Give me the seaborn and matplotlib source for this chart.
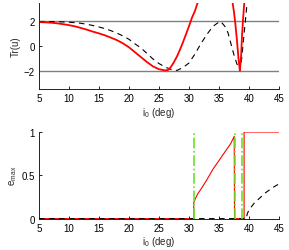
import matplotlib
matplotlib.use('Agg')
import matplotlib.pyplot as plt
import numpy as np
import pandas as pd
import seaborn as sns

# Top panel: trace of monodromy matrix vs inclination
tr_red_i1 = [5, 6, 7, 8, 9, 10, 11, 12, 13, 14, 15, 16, 17, 18, 19, 20, 21, 22, 23, 24, 25, 26, 26.5,
             27, 27.5, 28, 28.5, 29, 29.5, 30, 30.5, 31, 31.4, 31.6]
tr_red_v1 = [1.95, 1.93, 1.90, 1.85, 1.78, 1.70, 1.60, 1.47, 1.33, 1.17, 1.03, 0.87, 0.68, 0.48, 0.22,
             -0.1, -0.5, -0.9, -1.3, -1.65, -1.88, -1.98, -1.95, -1.7, -1.3, -0.85, -0.3, 0.3, 0.95,
             1.6, 2.3, 2.85, 3.45, 3.75]
tr_red_i2 = [37.2, 37.5, 37.7, 38.0, 38.3, 38.5, 38.7, 38.85, 39.0, 39.15, 39.3]
tr_red_v2 = [3.8, 2.8, 2.0, 0.5, -1.2, -2.0, -0.8, 0.8, 2.0, 3.0, 3.9]

tr_blk_i = [5, 6, 7, 8, 9, 10, 11, 12, 13, 14, 15, 16, 17, 18, 19, 20, 21, 22, 23, 24, 25, 26, 27, 28,
            29, 30, 31, 32, 33, 34, 35, 35.3, 36, 36.5, 37, 37.5, 38, 38.5, 38.8, 39.1, 39.4, 39.6, 39.75]
tr_blk_v = [2.0, 2.0, 1.99, 1.98, 1.96, 1.94, 1.9, 1.85, 1.77, 1.67, 1.55, 1.42, 1.25, 1.05, 0.82, 0.55,
            0.18, -0.15, -0.6, -1.05, -1.42, -1.7, -1.9, -1.98, -1.75, -1.38, -0.65, 0.2, 0.95, 1.6,
            1.95, 2.0, 1.6, 1.1, 0.2, -0.7, -1.45, -2.0, -1.0, 0.5, 2.0, 3.0, 3.8]
stab_levels = [-2, 2]

# Bottom panel: maximum eccentricity
e_red_i = [5, 30.8, 30.8, 31.0, 31.5, 32, 33, 34, 35, 36, 37, 37.55, 37.6, 39.2, 39.2, 45]
e_red_v = [0, 0, 0.18, 0.22, 0.29, 0.34, 0.45, 0.57, 0.67, 0.77, 0.87, 0.95, 0, 0, 1.0, 1.0]
e_blk_i = [5, 39.6, 39.7, 40, 40.9, 42, 42.8, 44, 45]
e_blk_v = [0, 0, 0.05, 0.1, 0.18, 0.25, 0.3, 0.36, 0.4]
bif_i = [30.8, 37.6, 38.9]

sns.set_style('ticks')
plt.rcParams['font.family'] = ['Liberation Sans', 'DejaVu Sans']
plt.rcParams['mathtext.fontset'] = 'custom'
plt.rcParams['mathtext.rm'] = 'Liberation Sans'
plt.rcParams['mathtext.it'] = 'Liberation Sans:italic'
plt.rcParams['xtick.direction'] = 'in'
plt.rcParams['ytick.direction'] = 'in'

fig = plt.figure(figsize=(2.89, 2.51), dpi=100)
ax1 = fig.add_axes([0.135, 0.641, 0.830, 0.343])
ax2 = fig.add_axes([0.135, 0.125, 0.830, 0.345])

dash = (0, (5, 4))

# top
for lv in stab_levels:
    ax1.axhline(lv, color='#808080', lw=1.0, zorder=1)
sns.lineplot(x=tr_blk_i, y=tr_blk_v, ax=ax1, color='black', lw=0.8, linestyle=dash,
             estimator=None, sort=False)
sns.lineplot(x=tr_red_i1, y=tr_red_v1, ax=ax1, color='red', lw=1.3, estimator=None, sort=False)
sns.lineplot(x=tr_red_i2, y=tr_red_v2, ax=ax1, color='red', lw=1.3, estimator=None, sort=False)
ax1.set_xlim(5, 45)
ax1.set_ylim(-3.5, 3.5)
ax1.set_yticks([-2, 0, 2])
ax1.set_ylabel('Tr(u)', fontsize=7, labelpad=2)

# bottom
sns.lineplot(x=e_blk_i, y=e_blk_v, ax=ax2, color='black', lw=0.8, linestyle=dash,
             estimator=None, sort=False, zorder=3)
sns.lineplot(x=e_red_i, y=e_red_v, ax=ax2, color='red', lw=0.8, estimator=None, sort=False, zorder=2)
ax2.vlines(bif_i, 0, 1, colors='#66e622', lw=1.2, linestyles='dashdot', zorder=4)
ax2.set_xlim(5, 45)
ax2.set_ylim(0, 1)
ax2.set_yticks([0, 0.5, 1])
ax2.set_yticklabels(['0', '0.5', '1'])
ax2.set_ylabel(r'e$_{\mathrm{max}}$', fontsize=7, labelpad=2)

for ax in (ax1, ax2):
    ax.set_xticks(range(5, 50, 5))
    ax.set_xlabel(r'i$_0$ (deg)', fontsize=7, labelpad=1)
    ax.tick_params(labelsize=7, length=2.5, width=0.6, pad=3, colors='black')
    for s in ('left', 'bottom'):
        ax.spines[s].set_linewidth(0.7)
        ax.spines[s].set_color('#222222')
    sns.despine(ax=ax)
    ax.set_clip_on(True)

fig.savefig('out.png', dpi=100)
